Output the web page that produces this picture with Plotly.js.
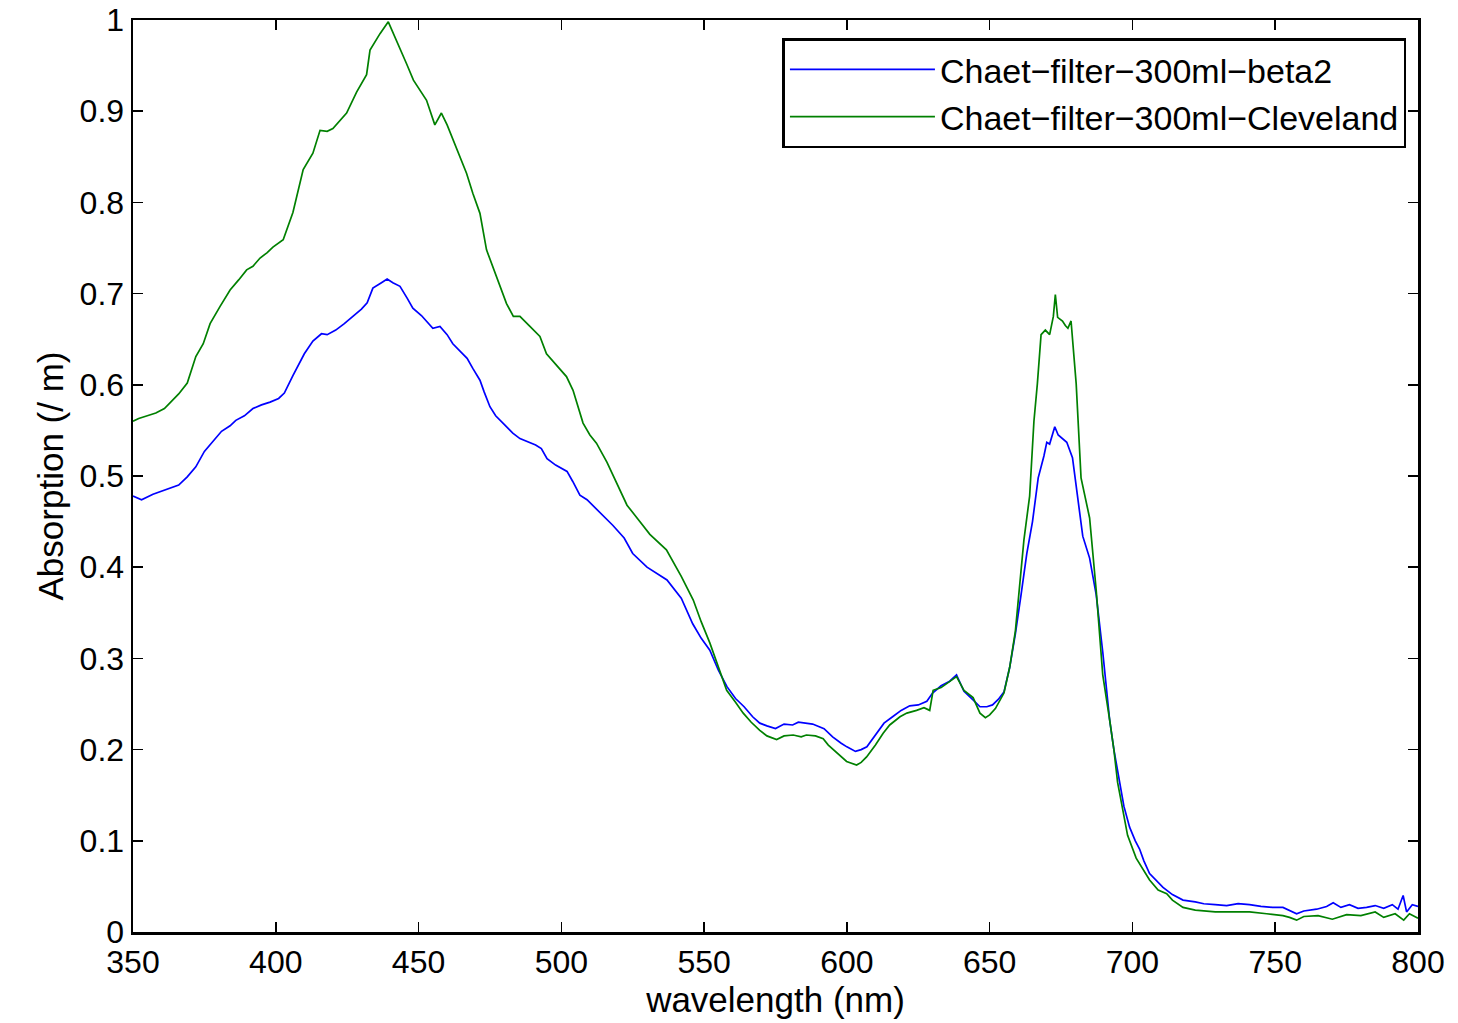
<!DOCTYPE html>
<html>
<head>
<meta charset="utf-8">
<script src="https://cdn.plot.ly/plotly-3.0.1.min.js"></script>
<style>html,body{margin:0;padding:0;background:#fff;}#chart{width:1458px;height:1023px;}</style>
</head>
<body>
<div id="chart"></div>
<script>
const seriesNames = ["Chaet\u2212filter\u2212300ml\u2212beta2", "Chaet\u2212filter\u2212300ml\u2212Cleveland"];
const xTicks = [350, 400, 450, 500, 550, 600, 650, 700, 750, 800];
const yTicks = [0, 0.1, 0.2, 0.3, 0.4, 0.5, 0.6, 0.7, 0.8, 0.9, 1];
const yTickText = ["0", "0.1", "0.2", "0.3", "0.4", "0.5", "0.6", "0.7", "0.8", "0.9", "1"];

const beta2Wavelength = [350,353,357,363,366,369,372,375,378,381,384,386,389,392,395,398,401,403,406,410,413,416,418,421,424,427,430,432,434,437,439,441,443.5,446,448,451,455,457.5,460,462,465,467,469,471.5,473,475,477,480,483,485.5,488,491,493,495,498,502,504,506.5,509,511,515,518,522,525,530,537,542,546,549,552,555,558,561,564,567,569.5,572,575,578,581,583,585,588,592,595,598,600,603,605,607,610,613,616,619,622,625,628,630,633,636,638.4,641,644,646.6,649,651,653,655,657,659,661,663,665,667,669,670,671,672.8,674,675,677,679,680.3,682.6,685,687.3,689.6,692,693.5,695.5,697,699,701,702.5,704,706,708,710.7,714,717.7,722,725,729,733,737,741,745,749,752.7,755,757.5,760,764.5,768,770.3,773,776,779,782,785,788,791,793,794.8,796,798,800];
const beta2Absorption = [0.478,0.474,0.480,0.487,0.490,0.499,0.510,0.527,0.538,0.549,0.555,0.561,0.566,0.574,0.578,0.581,0.585,0.591,0.610,0.634,0.648,0.656,0.655,0.660,0.667,0.675,0.683,0.690,0.706,0.712,0.716,0.712,0.708,0.695,0.684,0.676,0.662,0.664,0.655,0.645,0.636,0.629,0.618,0.605,0.592,0.576,0.566,0.556,0.547,0.541,0.538,0.534,0.530,0.519,0.512,0.505,0.494,0.479,0.474,0.468,0.456,0.446,0.432,0.415,0.400,0.386,0.366,0.338,0.322,0.309,0.287,0.269,0.256,0.247,0.236,0.229,0.226,0.223,0.228,0.227,0.230,0.229,0.228,0.223,0.214,0.207,0.203,0.198,0.200,0.203,0.216,0.229,0.236,0.243,0.248,0.249,0.253,0.262,0.270,0.275,0.282,0.264,0.255,0.247,0.247,0.249,0.255,0.263,0.290,0.327,0.370,0.415,0.450,0.498,0.522,0.537,0.535,0.554,0.545,0.542,0.537,0.520,0.488,0.434,0.410,0.370,0.307,0.233,0.200,0.164,0.138,0.115,0.100,0.091,0.078,0.064,0.058,0.049,0.041,0.035,0.033,0.031,0.030,0.029,0.031,0.030,0.028,0.027,0.027,0.024,0.020,0.023,0.025,0.028,0.032,0.027,0.030,0.026,0.027,0.029,0.026,0.030,0.025,0.040,0.022,0.030,0.028];

const clevelandWavelength = [350,352,355,358,361,363,366,369,372,374.6,377,380.5,384,387,389.8,392,394.5,397,399,402.6,406,409.6,413,415.5,418,420,422,424.8,428.3,431.8,433,436.5,439.4,442.3,445.8,448.2,450,452.8,455.7,458,460,462.2,464.5,466.8,469,471.5,473.8,477.3,480.8,483.2,485.5,489,492.5,494.8,498,501.8,504.1,507.6,510,512.3,516,519.3,523,527,531,536.8,542,546.2,549,552,555,557.9,561,563.7,566.5,569.5,572,575.4,578,581.2,584,585.8,589,591.7,593.5,595.2,598,599.9,603.4,605,606.9,610,612.7,615,618.6,621,624.4,627,629,630.2,633,634.9,638.4,641,644.2,646.6,648.5,650,652,655,657,659,660.4,662,664,665.5,666.7,668,669.5,671,672.3,673,673.8,675.5,676.5,677.4,678.5,680.3,682,685,687.3,689.6,692,693.5,694.8,697,698.3,701.3,704,706,709,712,714,717.7,722,729,735,741,747,752.7,755,757.5,760,765,770,775,780,785,788,792,795,797,800];
const clevelandAbsorption = [0.560,0.563,0.566,0.569,0.574,0.580,0.590,0.602,0.631,0.645,0.667,0.686,0.704,0.715,0.726,0.730,0.739,0.745,0.751,0.759,0.789,0.836,0.854,0.879,0.878,0.881,0.888,0.898,0.921,0.940,0.967,0.985,0.998,0.978,0.952,0.934,0.925,0.912,0.885,0.898,0.885,0.868,0.850,0.832,0.810,0.788,0.748,0.719,0.689,0.675,0.675,0.664,0.653,0.634,0.622,0.609,0.594,0.558,0.545,0.536,0.515,0.492,0.468,0.452,0.436,0.419,0.390,0.364,0.340,0.317,0.290,0.265,0.252,0.240,0.230,0.221,0.215,0.211,0.215,0.216,0.214,0.216,0.215,0.212,0.205,0.200,0.192,0.187,0.183,0.186,0.192,0.205,0.218,0.227,0.236,0.240,0.243,0.246,0.243,0.265,0.268,0.272,0.280,0.265,0.257,0.240,0.235,0.238,0.245,0.262,0.290,0.330,0.380,0.430,0.478,0.560,0.601,0.655,0.660,0.655,0.675,0.699,0.674,0.670,0.665,0.662,0.670,0.601,0.498,0.454,0.375,0.282,0.233,0.200,0.164,0.130,0.106,0.081,0.068,0.057,0.046,0.042,0.035,0.027,0.024,0.022,0.022,0.022,0.020,0.018,0.016,0.013,0.017,0.018,0.014,0.019,0.018,0.022,0.016,0.020,0.013,0.020,0.015];

const fontFamily = "Liberation Sans, Arial, sans-serif";

const traces = [
  {x: beta2Wavelength, y: beta2Absorption, type: "scatter", mode: "lines", name: seriesNames[0],
   line: {color: "#0000ff", width: 1.7}},
  {x: clevelandWavelength, y: clevelandAbsorption, type: "scatter", mode: "lines", name: seriesNames[1],
   line: {color: "#008000", width: 1.7}}
];

const axisCommon = {
  showline: true, linecolor: "#000", linewidth: 2.5, mirror: "ticks",
  ticks: "inside", ticklen: 10, tickwidth: 1.5, tickcolor: "#000",
  showgrid: false, zeroline: false,
  tickfont: {family: fontFamily, size: 32, color: "#000"}
};

const layout = {
  width: 1458, height: 1023,
  paper_bgcolor: "#fff", plot_bgcolor: "#fff",
  margin: {l: 133, r: 40, t: 20, b: 91},
  showlegend: true,
  legend: {
    x: 0.991, xanchor: "right", y: 0.98, yanchor: "top",
    bgcolor: "#fff", bordercolor: "#000", borderwidth: 2.5,
    font: {family: fontFamily, size: 34, color: "#000"},
    itemwidth: 145,
    tracegroupgap: 0
  },
  xaxis: Object.assign({}, axisCommon, {
    range: [350, 800], tickvals: xTicks, ticktext: xTicks.map(String),
    title: {text: "wavelength (nm)", font: {family: fontFamily, size: 35, color: "#000"}, standoff: 4}
  }),
  yaxis: Object.assign({}, axisCommon, {
    range: [0, 1], tickvals: yTicks, ticktext: yTickText,
    title: {text: "Absorption (/ m)", font: {family: fontFamily, size: 35, color: "#000"}, standoff: 6}
  })
};

Plotly.newPlot("chart", traces, layout, {displayModeBar: false, staticPlot: true});
</script>
</body>
</html>
